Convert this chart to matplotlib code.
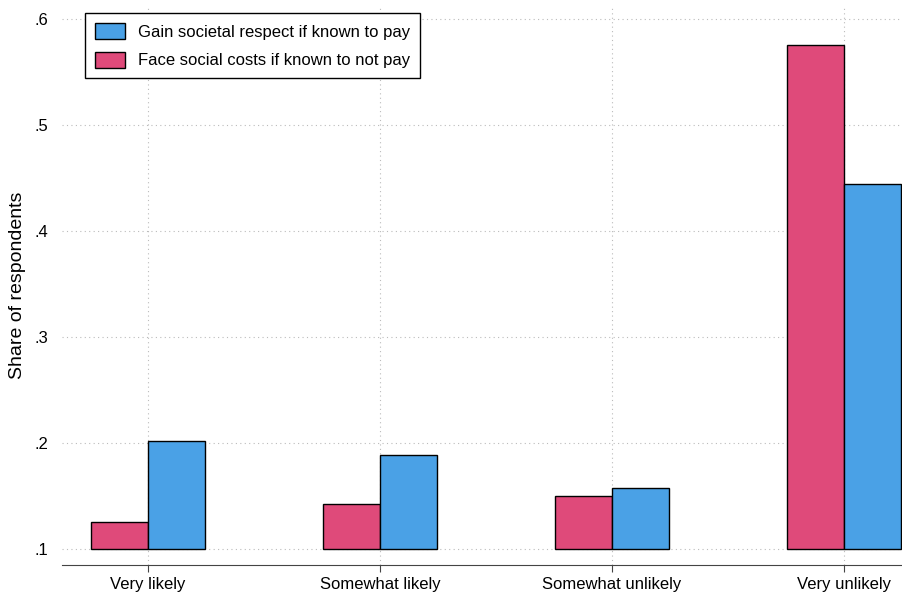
import matplotlib.pyplot as plt
import numpy as np

CATEGORIES = ["Very likely", "Somewhat likely", "Somewhat unlikely", "Very unlikely"]
GAIN = [0.202, 0.189, 0.158, 0.444]
COSTS = [0.126, 0.143, 0.150, 0.575]

PINK = "#df4a7a"
BLUE = "#4aa1e6"

plt.rcParams['font.family'] = ['Liberation Sans', 'DejaVu Sans']

fig = plt.figure(figsize=(9.03, 5.98), dpi=100)
ax = fig.add_axes([0.0687, 0.055, 0.9313, 0.937])

x = np.arange(len(CATEGORIES))
w = 0.246
base = 0.1
ax.bar(x - w / 2, np.array(COSTS) - base, w, bottom=base, color=PINK,
       edgecolor="black", linewidth=1, label="Face social costs if known to not pay", zorder=3)
ax.bar(x + w / 2, np.array(GAIN) - base, w, bottom=base, color=BLUE,
       edgecolor="black", linewidth=1, label="Gain societal respect if known to pay", zorder=3)

ax.set_xlim(-0.37, 3.254)
ax.set_ylim(0.085, 0.613)
ax.set_xticks(x)
ax.set_xticklabels(CATEGORIES, fontsize=12)
yt = [0.1, 0.2, 0.3, 0.4, 0.5, 0.6]
ax.set_yticks(yt)
ax.set_yticklabels([".1", ".2", ".3", ".4", ".5", ".6"], fontsize=12)
ax.set_ylabel("Share of respondents", fontsize=14, labelpad=6)
ax.grid(True, linestyle=(0, (1, 3)), color="#bbbbbb", linewidth=0.8, zorder=0)
for s in ["top", "right", "left"]:
    ax.spines[s].set_visible(False)
ax.spines["bottom"].set_color("#444444")
ax.tick_params(axis="y", length=0, pad=10)
ax.tick_params(axis="x", length=5, color="#444444")

h, l = ax.get_legend_handles_labels()
leg = ax.legend(h[::-1], l[::-1], loc="upper left", fontsize=12, fancybox=False,
                edgecolor="black", framealpha=1, bbox_to_anchor=(0.027, 0.985),
                borderaxespad=0, handlelength=1.8, handleheight=1.1,
                borderpad=0.6, labelspacing=0.7)
leg.get_frame().set_linewidth(1)

fig.savefig("out.png", dpi=100)
